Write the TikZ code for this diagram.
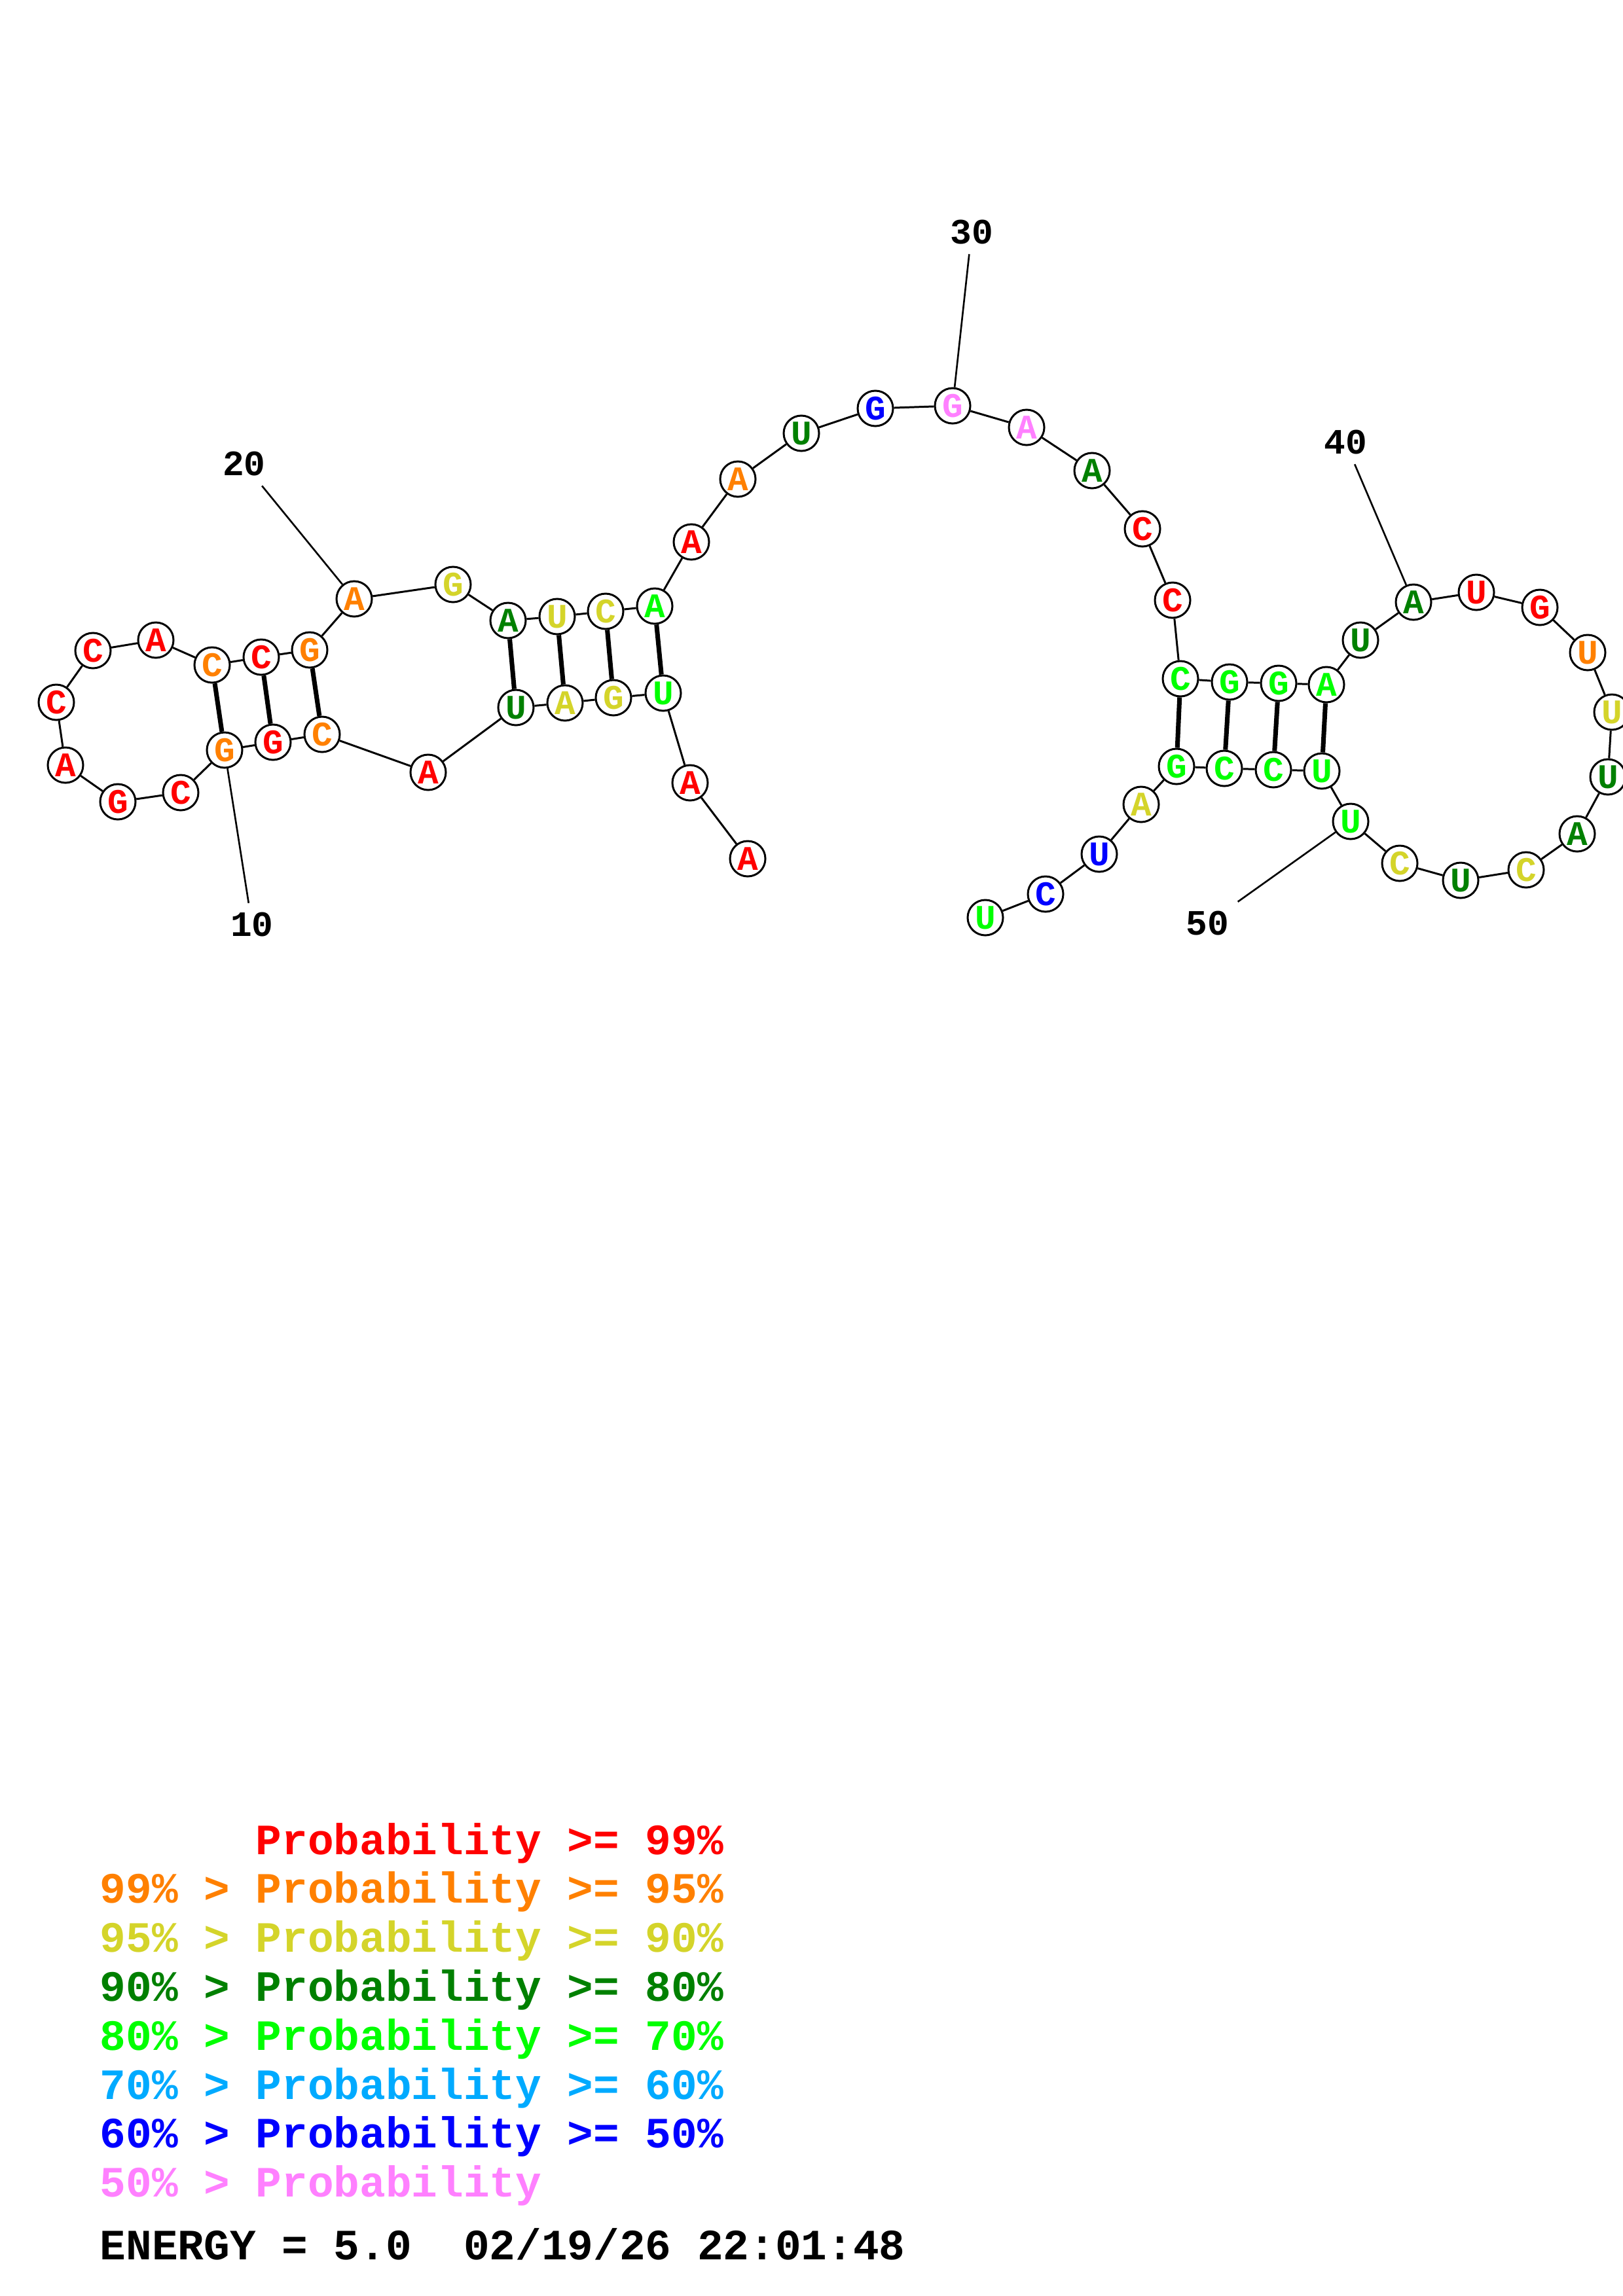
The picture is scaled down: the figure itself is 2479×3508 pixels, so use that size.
\documentclass[tikz,border=0pt]{standalone}
\usepackage{fontspec}
\setmonofont{Liberation Mono}
\usepackage{xcolor}
\usepackage{tikz}

\definecolor{p99}{RGB}{255,0,0}
\definecolor{p95}{RGB}{255,128,0}
\definecolor{p90}{RGB}{212,212,42}
\definecolor{p80}{RGB}{0,128,0}
\definecolor{p70}{RGB}{0,255,0}
\definecolor{p60}{RGB}{0,170,255}
\definecolor{p50}{RGB}{0,0,255}
\definecolor{plow}{RGB}{255,128,255}

\begin{document}
\begin{tikzpicture}[
    x=0.01cm, y=-0.01cm,
    nt/.style={circle, draw, fill=white, line width=0.85pt, minimum size=0.54cm, inner sep=0pt, font=\ttfamily\bfseries\fontsize{15}{15}\selectfont},
    bb/.style={line width=0.85pt},
    bp/.style={line width=2pt},
    num/.style={inner sep=4pt, font=\ttfamily\bfseries\fontsize{15.5}{16}\selectfont},
    numline/.style={line width=0.75pt},
    leg/.style={anchor=base west, inner sep=0pt, font=\ttfamily\bfseries\fontsize{18.8}{20}\selectfont}
]
\useasboundingbox (0,0) rectangle (2479,3508);

\node[nt, text=p99] (n1) at (1142,1312) {A};
\node[nt, text=p99] (n2) at (1054,1196) {A};
\node[nt, text=p70] (n3) at (1013,1059) {U};
\node[nt, text=p90] (n4) at (937,1066) {G};
\node[nt, text=p90] (n5) at (863,1074) {A};
\node[nt, text=p80] (n6) at (788,1081) {U};
\node[nt, text=p99] (n7) at (654,1180) {A};
\node[nt, text=p95] (n8) at (492,1122) {C};
\node[nt, text=p99] (n9) at (417,1134) {G};
\node[nt, text=p95] (n10) at (343,1146) {G};
\node[nt, text=p99] (n11) at (276,1211) {C};
\node[nt, text=p99] (n12) at (180,1225) {G};
\node[nt, text=p99] (n13) at (100,1169) {A};
\node[nt, text=p99] (n14) at (86,1073) {C};
\node[nt, text=p99] (n15) at (142,994) {C};
\node[nt, text=p99] (n16) at (238,978) {A};
\node[nt, text=p95] (n17) at (324,1016) {C};
\node[nt, text=p99] (n18) at (399,1004) {C};
\node[nt, text=p95] (n19) at (473,993) {G};
\node[nt, text=p95] (n20) at (541,915) {A};
\node[nt, text=p90] (n21) at (692,893) {G};
\node[nt, text=p80] (n22) at (776,948) {A};
\node[nt, text=p90] (n23) at (851,942) {U};
\node[nt, text=p90] (n24) at (925,934) {C};
\node[nt, text=p70] (n25) at (1000,926) {A};
\node[nt, text=p99] (n26) at (1056,828) {A};
\node[nt, text=p95] (n27) at (1127,732) {A};
\node[nt, text=p80] (n28) at (1224,662) {U};
\node[nt, text=p50] (n29) at (1337,624) {G};
\node[nt, text=plow] (n30) at (1455,620) {G};
\node[nt, text=plow] (n31) at (1568,653) {A};
\node[nt, text=p80] (n32) at (1668,719) {A};
\node[nt, text=p99] (n33) at (1745,808) {C};
\node[nt, text=p99] (n34) at (1791,917) {C};
\node[nt, text=p70] (n35) at (1803,1037) {C};
\node[nt, text=p70] (n36) at (1878,1042) {G};
\node[nt, text=p70] (n37) at (1953,1044) {G};
\node[nt, text=p70] (n38) at (2026,1046) {A};
\node[nt, text=p80] (n39) at (2078,978) {U};
\node[nt, text=p80] (n40) at (2159,920) {A};
\node[nt, text=p99] (n41) at (2255,905) {U};
\node[nt, text=p99] (n42) at (2352,928) {G};
\node[nt, text=p95] (n43) at (2425,997) {U};
\node[nt, text=p90] (n44) at (2462,1088) {U};
\node[nt, text=p80] (n45) at (2456,1187) {U};
\node[nt, text=p80] (n46) at (2409,1274) {A};
\node[nt, text=p90] (n47) at (2331,1329) {C};
\node[nt, text=p80] (n48) at (2231,1345) {U};
\node[nt, text=p90] (n49) at (2138,1319) {C};
\node[nt, text=p70] (n50) at (2063,1255) {U};
\node[nt, text=p70] (n51) at (2019,1178) {U};
\node[nt, text=p70] (n52) at (1945,1176) {C};
\node[nt, text=p70] (n53) at (1870,1174) {C};
\node[nt, text=p70] (n54) at (1797,1171) {G};
\node[nt, text=p90] (n55) at (1743,1229) {A};
\node[nt, text=p50] (n56) at (1679,1305) {U};
\node[nt, text=p50] (n57) at (1597,1366) {C};
\node[nt, text=p70] (n58) at (1505,1402) {U};

\node[num] (l10) at (385,1413) {10};
\node[num] (l20) at (373,709) {20};
\node[num] (l30) at (1484,355) {30};
\node[num] (l40) at (2055,676) {40};
\node[num] (l50) at (1844,1411) {50};

\draw[bb] (n1) -- (n2) -- (n3) -- (n4) -- (n5) -- (n6) -- (n7) -- (n8) -- (n9) -- (n10)
  -- (n11) -- (n12) -- (n13) -- (n14) -- (n15) -- (n16) -- (n17) -- (n18) -- (n19) -- (n20)
  -- (n21) -- (n22) -- (n23) -- (n24) -- (n25) -- (n26) -- (n27) -- (n28) -- (n29) -- (n30)
  -- (n31) -- (n32) -- (n33) -- (n34) -- (n35) -- (n36) -- (n37) -- (n38) -- (n39) -- (n40)
  -- (n41) -- (n42) -- (n43) -- (n44) -- (n45) -- (n46) -- (n47) -- (n48) -- (n49) -- (n50)
  -- (n51) -- (n52) -- (n53) -- (n54) -- (n55) -- (n56) -- (n57) -- (n58);

\draw[bp] (n10) -- (n17);
\draw[bp] (n9) -- (n18);
\draw[bp] (n8) -- (n19);
\draw[bp] (n6) -- (n22);
\draw[bp] (n5) -- (n23);
\draw[bp] (n4) -- (n24);
\draw[bp] (n3) -- (n25);
\draw[bp] (n54) -- (n35);
\draw[bp] (n53) -- (n36);
\draw[bp] (n52) -- (n37);
\draw[bp] (n51) -- (n38);

\draw[numline] (l10) -- (n10);
\draw[numline] (l20) -- (n20);
\draw[numline] (l30) -- (n30);
\draw[numline] (l40) -- (n40);
\draw[numline] (l50) -- (n50);

\node[leg, text=p99] (k99) at (152,2833) {\hphantom{99\% > }Probability >= 99\%};
\node[leg, text=p95] (k95) at (152,2907) {99\% > Probability >= 95\%};
\node[leg, text=p90] (k90) at (152,2982) {95\% > Probability >= 90\%};
\node[leg, text=p80] (k80) at (152,3057) {90\% > Probability >= 80\%};
\node[leg, text=p70] (k70) at (152,3132) {80\% > Probability >= 70\%};
\node[leg, text=p60] (k60) at (152,3207) {70\% > Probability >= 60\%};
\node[leg, text=p50] (k50) at (152,3281) {60\% > Probability >= 50\%};
\node[leg, text=plow] (klow) at (152,3356) {50\% > Probability};
\node[leg] (energy) at (152,3452) {ENERGY = 5.0~~02/19/26 22:01:48};
\end{tikzpicture}
\end{document}
